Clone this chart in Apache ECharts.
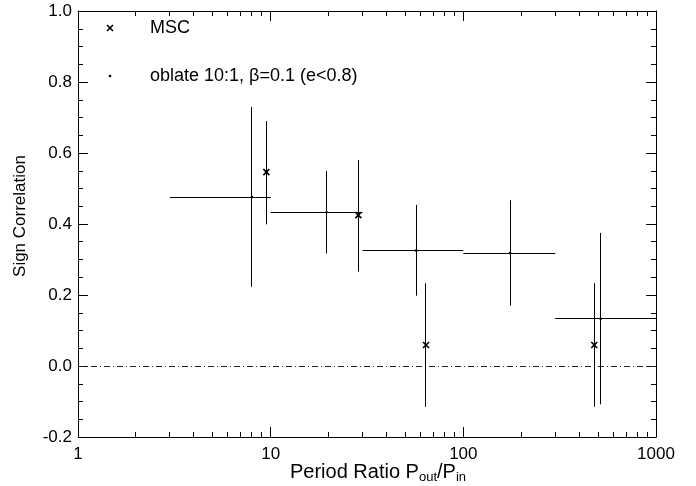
<!DOCTYPE html>
<html>
<head>
<meta charset="utf-8">
<script src="https://cdn.jsdelivr.net/npm/echarts@6/dist/echarts.min.js"></script>
<style>html,body{margin:0;padding:0;background:#fff}#c{width:696px;height:486px}</style>
</head>
<body>
<div id="c"></div>
<script>
// ---- data ----
const oblateX   = [8.0, 19.5, 57, 175, 516];
const oblateY   = [0.476, 0.433, 0.325, 0.318, 0.133];
const oblateXLo = [3, 10, 30, 100, 300];
const oblateXHi = [10, 30, 100, 300, 1000];
const oblateYLo = [0.223, 0.317, 0.198, 0.170, -0.108];
const oblateYHi = [0.730, 0.549, 0.454, 0.467, 0.375];

const mscX   = [9.5, 28.5, 64, 478];
const mscY   = [0.546, 0.425, 0.059, 0.059];
const mscYLo = [0.399, 0.266, -0.115, -0.115];
const mscYHi = [0.690, 0.580, 0.233, 0.233];

const xMinorTicks = [2,3,4,5,6,7,8,9,20,30,40,50,60,70,80,90,200,300,400,500,600,700,800,900];
const xTickLabels = {1:'1', 10:'10', 100:'100', 1000:'1000'};
const yTickLabels = ['-0.2','0.0','0.2','0.4','0.6','0.8','1.0'];

const FONT = 'Liberation Sans, Arial, Helvetica, sans-serif';
const FS = 17;

const chart = echarts.init(document.getElementById('c'), null, {renderer:'canvas'});

function crisp(v){ return Math.round(v - 0.5) + 0.5; }
function seg(x1,y1,x2,y2,w){
  return {type:'line', shape:{x1:x1,y1:y1,x2:x2,y2:y2}, style:{stroke:'#000', lineWidth:w||1}};
}

const oblateData = oblateX.map((x,i)=>[x, oblateY[i], oblateXLo[i], oblateXHi[i], oblateYLo[i], oblateYHi[i]]);
const mscData = mscX.map((x,i)=>[x, mscY[i], mscYLo[i], mscYHi[i]]);
const minorData = xMinorTicks.map(v=>[v, 0]);

const axisBase = {
  axisLine:{show:true, onZero:false, lineStyle:{color:'#000', width:1}},
  splitLine:{show:false},
};

const option = {
  animation:false,
  backgroundColor:'#fff',
  grid:{left:78, right:40, top:11, bottom:49, containLabel:false},
  xAxis:[
    Object.assign({}, axisBase, {
      type:'log', logBase:10, min:1, max:1000, position:'bottom',
      axisTick:{show:true, inside:true, length:10, lineStyle:{color:'#000'}},
      axisLabel:{show:true, margin:9, color:'#000', fontSize:FS, fontFamily:FONT,
        formatter:function(v){ return xTickLabels[Math.round(v)] || ''; }}
    }),
    Object.assign({}, axisBase, {
      type:'log', logBase:10, min:1, max:1000, position:'top',
      axisTick:{show:true, inside:true, length:10, lineStyle:{color:'#000'}},
      axisLabel:{show:false}
    })
  ],
  yAxis:[
    Object.assign({}, axisBase, {
      type:'value', min:-0.2, max:1.0, interval:0.2, position:'left',
      axisTick:{show:true, inside:true, length:10, lineStyle:{color:'#000'}},
      minorTick:{show:true, splitNumber:4, length:5, lineStyle:{color:'#000'}},
      axisLabel:{show:true, margin:6, color:'#000', fontSize:FS, fontFamily:FONT,
        formatter:function(v){ const k = Math.round((v+0.2)/0.2); return yTickLabels[k]; }}
    }),
    Object.assign({}, axisBase, {
      type:'value', min:-0.2, max:1.0, interval:0.2, position:'right',
      axisTick:{show:true, inside:true, length:10, lineStyle:{color:'#000'}},
      minorTick:{show:true, splitNumber:4, length:5, lineStyle:{color:'#000'}},
      axisLabel:{show:false}
    })
  ],
  graphic:[
    {type:'line', shape:{x1:107, y1:25, x2:113, y2:31}, style:{stroke:'#000', lineWidth:1.6}},
    {type:'line', shape:{x1:113, y1:25, x2:107, y2:31}, style:{stroke:'#000', lineWidth:1.6}},
    {type:'text', x:150, y:28, style:{text:'MSC', fill:'#000', font:'18px '+FONT, verticalAlign:'middle'}},
    {type:'circle', shape:{cx:110, cy:76, r:1.3}, style:{fill:'#000'}},
    {type:'text', x:150, y:76, style:{text:'oblate 10:1, β=0.1 (e<0.8)', fill:'#000', font:'18px '+FONT, verticalAlign:'middle'}},
    {type:'text', x:20, y:216, rotation:Math.PI/2,
      style:{text:'Sign Correlation', fill:'#000', font:FS+'px '+FONT, align:'center', verticalAlign:'middle'}},
    {type:'text', x:290, y:461,
      style:{text:'Period Ratio P{sub|out}/P{sub|in}', fill:'#000', font:'20px '+FONT, align:'left', verticalAlign:'top',
        rich:{sub:{fontSize:13, fontFamily:FONT, fill:'#000', verticalAlign:'bottom', padding:[10,0,0,0]}}}}
  ],
  series:[
    {
      type:'custom', name:'minorX', xAxisIndex:0, yAxisIndex:0, silent:true, clip:false,
      data:minorData,
      renderItem:function(params, api){
        const v = api.value(0);
        const b = api.coord([v, -0.2]);
        const t = api.coord([v, 1.0]);
        const x = crisp(b[0]);
        return {type:'group', children:[seg(x, b[1], x, b[1]-5), seg(x, t[1], x, t[1]+5)]};
      }
    },
    {
      type:'custom', name:'oblate 10:1, β=0.1 (e<0.8)', xAxisIndex:0, yAxisIndex:0,
      data:oblateData, clip:true,
      renderItem:function(params, api){
        const c  = api.coord([api.value(0), api.value(1)]);
        const l  = api.coord([api.value(2), api.value(1)]);
        const r  = api.coord([api.value(3), api.value(1)]);
        const lo = api.coord([api.value(0), api.value(4)]);
        const hi = api.coord([api.value(0), api.value(5)]);
        const y = crisp(c[1]), x = crisp(c[0]);
        return {type:'group', children:[
          seg(l[0], y, r[0], y),
          seg(x, lo[1], x, hi[1]),
          {type:'circle', shape:{cx:c[0], cy:c[1], r:1.3}, style:{fill:'#000'}}
        ]};
      },
      markLine:{
        silent:true, symbol:['none','none'], label:{show:false},
        lineStyle:{color:'#222', width:1, type:[6,3,1,3]},
        data:[{yAxis:0}]
      }
    },
    {
      type:'custom', name:'MSC', xAxisIndex:0, yAxisIndex:0,
      data:mscData, clip:true,
      renderItem:function(params, api){
        const c  = api.coord([api.value(0), api.value(1)]);
        const lo = api.coord([api.value(0), api.value(2)]);
        const hi = api.coord([api.value(0), api.value(3)]);
        const x = crisp(c[0]);
        const s = 3;
        return {type:'group', children:[
          seg(x, lo[1], x, hi[1]),
          seg(c[0]-s, c[1]-s, c[0]+s, c[1]+s, 1.6),
          seg(c[0]+s, c[1]-s, c[0]-s, c[1]+s, 1.6)
        ]};
      }
    }
  ]
};
chart.setOption(option);
</script>
</body>
</html>
